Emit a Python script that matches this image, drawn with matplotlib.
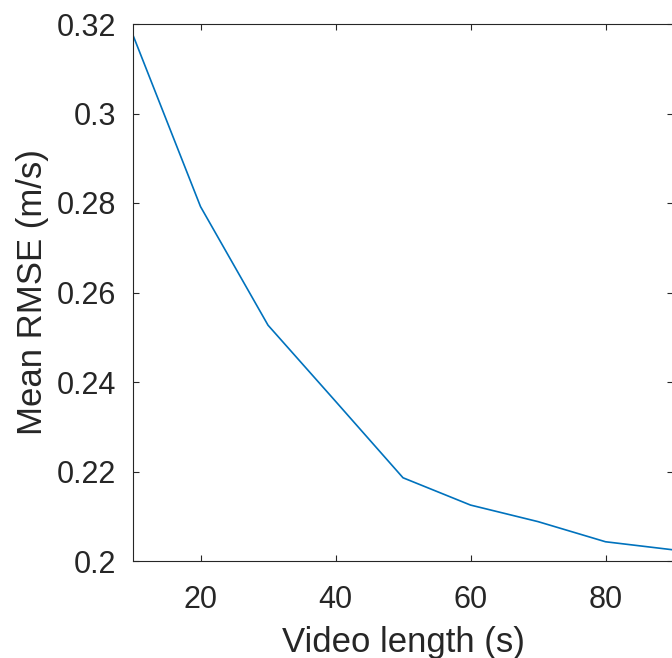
import matplotlib
matplotlib.use("Agg")
import matplotlib.pyplot as plt

video_length = [10, 20, 30, 40, 50, 60, 70, 80, 90]
mean_rmse = [0.3175, 0.2792, 0.2527, 0.2357, 0.2186, 0.2125, 0.2088, 0.2043, 0.2025]
x_ticks = [20, 40, 60, 80]
y_ticks = [0.2, 0.22, 0.24, 0.26, 0.28, 0.3, 0.32]
y_tick_labels = ["0.2", "0.22", "0.24", "0.26", "0.28", "0.3", "0.32"]

plt.rcParams['font.family'] = ['Liberation Sans', 'DejaVu Sans']
dark = '#262626'

fig = plt.figure(figsize=(6.72, 6.58), dpi=100)
ax = fig.add_axes([133/672, 1 - 561/658, (673 - 133)/672, (561 - 24)/658])
ax.plot(video_length, mean_rmse, color='#0072BD', linewidth=1.2)
ax.set_xlim(10, 90)
ax.set_ylim(0.2, 0.32)
ax.set_xticks(x_ticks)
ax.set_yticks(y_ticks)
ax.set_yticklabels(y_tick_labels)
ax.tick_params(direction='in', length=4.5, width=0.8, colors=dark, labelsize=22,
               top=True, right=True, pad=12)
ax.tick_params(axis='x', pad=17)
for s in ax.spines.values():
    s.set_color(dark)
    s.set_linewidth(0.8)
ax.set_xlabel('Video length (s)', fontsize=25, color=dark, labelpad=8)
ax.set_ylabel('Mean RMSE (m/s)', fontsize=25, color=dark, labelpad=6)
fig.savefig('out.png', dpi=100)
